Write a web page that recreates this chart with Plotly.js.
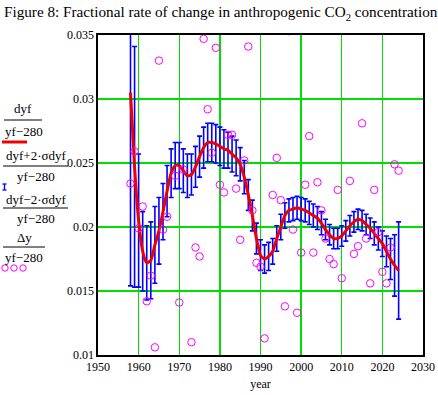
<!DOCTYPE html>
<html>
<head>
<meta charset="utf-8">
<script src="https://cdn.plot.ly/plotly-3.0.1.min.js"></script>
<style>
  html, body { margin: 0; padding: 0; background: #fff; }
  #chart { width: 438px; height: 395px; }
</style>
</head>
<body>
<div id="chart"></div>
<script>
/* Figure 8 — fractional rate of change in anthropogenic CO2.
   Values. */

const YEARS = [
  1958, 1959, 1960, 1961, 1962, 1963, 1964, 1965, 1966, 1967,
  1968, 1969, 1970, 1971, 1972, 1973, 1974, 1975, 1976, 1977,
  1978, 1979, 1980, 1981, 1982, 1983, 1984, 1985, 1986, 1987,
  1988, 1989, 1990, 1991, 1992, 1993, 1994, 1995, 1996, 1997,
  1998, 1999, 2000, 2001, 2002, 2003, 2004, 2005, 2006, 2007,
  2008, 2009, 2010, 2011, 2012, 2013, 2014, 2015, 2016, 2017,
  2018, 2019, 2020, 2021, 2022, 2023, 2024
];

// dyf/(yf-280): smoothed rate (red curve, also centre of the error bars)
const FIT = [
  0.0305, 0.0247, 0.0205, 0.0181, 0.0172, 0.0174, 0.0186, 0.0197, 0.0212, 0.0228,
  0.0242, 0.0248, 0.0248, 0.0244, 0.0240, 0.0241, 0.0247, 0.0255, 0.0262, 0.0266,
  0.0266, 0.0265, 0.0263, 0.0261, 0.0260, 0.0257, 0.0254, 0.0249, 0.0239, 0.0225,
  0.0209, 0.0191, 0.0178, 0.0175, 0.0177, 0.0181, 0.0191, 0.0200, 0.0209, 0.0213,
  0.0214, 0.0215, 0.0214, 0.0213, 0.0211, 0.0209, 0.0207, 0.0203, 0.0198, 0.0194,
  0.0191, 0.0191, 0.0193, 0.0197, 0.0201, 0.0204, 0.0206, 0.0205, 0.0202, 0.0199,
  0.0195, 0.0191, 0.0187, 0.0181, 0.0175, 0.0170, 0.0166
];

// 2·σdyf/(yf-280): half length of each error bar
const BAND = [
  0.0151, 0.0094, 0.0052, 0.0031, 0.0029, 0.0030, 0.0030, 0.0026, 0.0022, 0.0020,
  0.0019, 0.0018, 0.0018, 0.0017, 0.0017, 0.0016, 0.0016, 0.0016, 0.0016, 0.0015,
  0.0015, 0.0015, 0.0015, 0.0015, 0.0014, 0.0014, 0.0014, 0.0013, 0.0013, 0.0012,
  0.0012, 0.0012, 0.0012, 0.0011, 0.0011, 0.0010, 0.0010, 0.0010, 0.0010, 0.0009,
  0.0009, 0.0009, 0.0009, 0.0009, 0.0009, 0.0009, 0.0009, 0.0009, 0.0008, 0.0008,
  0.0008, 0.0008, 0.0008, 0.0008, 0.0008, 0.0008, 0.0008, 0.0008, 0.0008, 0.0008,
  0.0009, 0.0009, 0.0010, 0.0012, 0.0016, 0.0024, 0.0038
];

// Δy/(yf-280): yearly values (circles); null where off the plotted range
const DELTA = [
  0.0234, 0.0259, 0.0199, 0.0216, 0.0142, 0.0162, 0.0106, 0.0330, 0.0198, 0.0208,
  null,   0.0240, 0.0141, 0.0245, null,   0.0110, 0.0184, 0.0177, 0.0347, 0.0292,
  0.0258, 0.0340, 0.0233, 0.0227, 0.0272, 0.0272, 0.0230, 0.0190, 0.0252, 0.0341,
  0.0213, 0.0172, 0.0169, 0.0113, null,   0.0225, 0.0254, 0.0221, 0.0138, 0.0353,
  0.0198, 0.0133, 0.0180, 0.0233, 0.0271, 0.0180, 0.0235, 0.0213, 0.0191, 0.0175,
  0.0171, 0.0229, 0.0160, null,   0.0236, 0.0179, 0.0185, 0.0281, 0.0191, 0.0156,
  0.0229, 0.0196, 0.0165, 0.0156, 0.0184, 0.0249, 0.0244
];

const Y_TICKS = [0.01, 0.015, 0.02, 0.025, 0.03, 0.035];
const Y_TICK_TEXT = ['0.01', '0.015', '0.02', '0.025', '0.03', '0.035'];
const X_TICKS = [1950, 1960, 1970, 1980, 1990, 2000, 2010, 2020, 2030];
const X_RANGE = [1950, 2030];
const Y_RANGE = [0.01, 0.035];

const SERIF = '"Times New Roman", "Liberation Serif", serif';
const GRID = '#00dd00';

// plot area in page pixels (for the hand-drawn legend on the left)
const PL = 98, PR = 423, PT = 35, PB = 355;
const px = x => (x - PL) / (PR - PL);
const py = y => (PB - y) / (PB - PT);

function legendText(text, x, y) {
  return { text, x: px(x), y: py(y), xref: 'paper', yref: 'paper',
           xanchor: 'center', yanchor: 'middle', showarrow: false,
           font: { family: SERIF, size: 13, color: '#000' } };
}
function legendLine(x0, x1, y, color, width) {
  return { type: 'line', xref: 'paper', yref: 'paper',
           x0: px(x0), x1: px(x1), y0: py(y), y1: py(y),
           line: { color, width } };
}
function legendCircle(cx, cy, r) {
  return { type: 'circle', xref: 'paper', yref: 'paper',
           x0: px(cx - r), x1: px(cx + r), y0: py(cy + r), y1: py(cy - r),
           line: { color: '#ff00ff', width: 1 } };
}

const traces = [
  {
    type: 'scatter', mode: 'markers', x: YEARS, y: FIT,
    marker: { size: 1, color: 'rgba(0,0,0,0)' },
    error_y: { type: 'data', array: BAND, symmetric: true, color: '#0000ff', thickness: 1.6, width: 2.5 },
    hoverinfo: 'skip'
  },
  {
    type: 'scatter', mode: 'lines', x: YEARS, y: FIT,
    line: { color: '#ee0000', width: 3, shape: 'spline', smoothing: 0.6 },
    hoverinfo: 'skip'
  },
  {
    type: 'scatter', mode: 'markers', x: YEARS, y: DELTA,
    marker: { symbol: 'circle-open', size: 7.5, color: '#ff00ff', line: { width: 1, color: '#ff00ff' } },
    hoverinfo: 'skip'
  }
];

const layout = {
  width: 438, height: 395,
  paper_bgcolor: '#fff', plot_bgcolor: '#fff',
  margin: { l: PL, r: 438 - PR, t: PT, b: 395 - PB },
  showlegend: false,
  title: {
    text: 'Figure 8: Fractional rate of change in anthropogenic CO<sub>2</sub> concentration',
    x: 4 / 438, xanchor: 'left', y: 1 - 12 / 395, yanchor: 'middle',
    font: { family: SERIF, size: 15.2, color: '#000' }
  },
  xaxis: {
    range: X_RANGE, tickmode: 'array', tickvals: X_TICKS, ticks: '',
    showgrid: true, gridcolor: GRID, gridwidth: 1.3, zeroline: false,
    showline: true, mirror: true, linecolor: '#000', linewidth: 1.6,
    tickfont: { family: SERIF, size: 12, color: '#000' },
    title: { text: 'year', standoff: 6, font: { family: SERIF, size: 12, color: '#000' } }
  },
  yaxis: {
    range: Y_RANGE,
    tickmode: 'array', tickvals: Y_TICKS, ticktext: Y_TICK_TEXT, ticks: '',
    showgrid: true, gridcolor: GRID, gridwidth: 1.5, zeroline: false,
    showline: true, mirror: true, linecolor: '#000', linewidth: 1.6,
    tickfont: { family: SERIF, size: 12, color: '#000' }
  },
  annotations: [
    legendText('dyf', 23, 109),
    legendText('yf\u2212280', 24, 131),
    legendText('dyf+2\u00b7\u03c3dyf', 36, 155),
    legendText('yf\u2212280', 36, 176),
    legendText('dyf\u22122\u00b7\u03c3dyf', 36, 199),
    legendText('yf\u2212280', 36, 218),
    legendText('\u0394y', 24, 237),
    legendText('yf\u2212280', 24, 257)
  ],
  shapes: [
    legendLine(4, 42, 120, '#000', 1),
    legendLine(2, 27, 142, '#ee0000', 3),
    legendLine(3, 68, 166, '#000', 1),
    { type: 'line', xref: 'paper', yref: 'paper', x0: px(4.5), x1: px(4.5), y0: py(184), y1: py(190), line: { color: '#0000ff', width: 1.3 } },
    legendLine(2.5, 6.5, 184, '#0000ff', 1.3),
    legendLine(2.5, 6.5, 190, '#0000ff', 1.3),
    legendLine(3, 68, 208, '#000', 1),
    legendLine(3, 45, 247, '#000', 1),
    legendCircle(5, 268, 3.2),
    legendCircle(14, 268, 3.2),
    legendCircle(23, 268, 3.2)
  ]
};

Plotly.newPlot('chart', traces, layout, { displayModeBar: false, staticPlot: true });
</script>
</body>
</html>
